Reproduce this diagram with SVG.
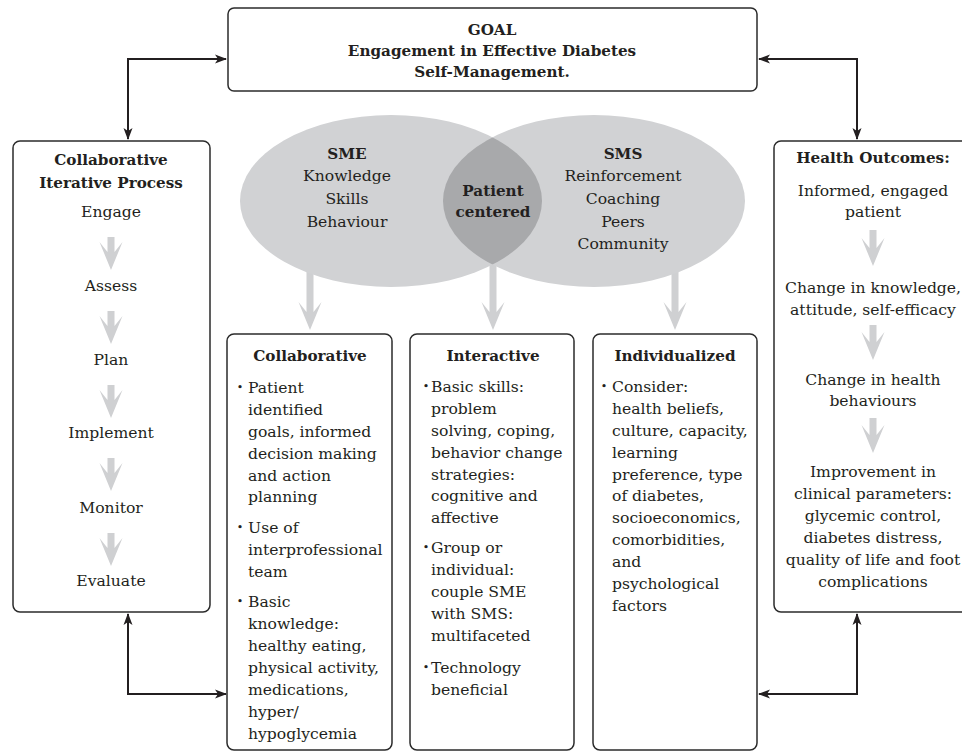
<svg xmlns="http://www.w3.org/2000/svg" width="962" height="752" viewBox="0 0 962 752">
<style>
.box{fill:#fff;stroke:#2b2b2b;stroke-width:1.5}
.t{font-family:"DejaVu Serif","Liberation Serif",serif;font-size:15.6px;fill:#231f20}
.b{font-weight:bold;font-size:15.2px}
.c{text-anchor:middle}
.bu{font-size:11px;text-anchor:middle}
.ga{fill:#cfd0d2}
.conn{stroke:#231f20;stroke-width:2;fill:none}
</style>
<defs>
<marker id="ah" markerUnits="userSpaceOnUse" markerWidth="12" markerHeight="10" viewBox="0 0 12 10" refX="11" refY="5" orient="auto-start-reverse">
<path d="M0,0.5 L12,5 L0,9.5 L3,5 Z" fill="#231f20"/>
</marker>
<clipPath id="clipL"><ellipse cx="391" cy="201" rx="151" ry="86"/></clipPath>
</defs>

<g id="connectors">
<path class="conn" d="M226,59 H128 V139" marker-start="url(#ah)" marker-end="url(#ah)"/>
<path class="conn" d="M759,59 H857 V139" marker-start="url(#ah)" marker-end="url(#ah)"/>
<path class="conn" d="M128,614 V694 H226" marker-start="url(#ah)" marker-end="url(#ah)"/>
<path class="conn" d="M857,614 V694 H759" marker-start="url(#ah)" marker-end="url(#ah)"/>
<path class="ga" d="M306.5,272 H313.5 V312 L321.5,302 L310,330 L298.5,302 L306.5,312 Z"/>
<path class="ga" d="M489.5,262 H496.5 V312 L504.5,302 L493,330 L481.5,302 L489.5,312 Z"/>
<path class="ga" d="M671.5,272 H678.5 V312 L686.5,302 L675,330 L663.5,302 L671.5,312 Z"/>
</g>

<g id="goal">
<rect class="box" x="228" y="8" width="529" height="83" rx="6"/>
<text class="t b c" x="492" y="35">GOAL</text>
<text class="t b c" x="492" y="56">Engagement in Effective Diabetes</text>
<text class="t b c" x="492" y="77">Self-Management.</text>
</g>

<g id="venn">
<ellipse cx="391" cy="201" rx="151" ry="86" fill="#d1d2d4"/>
<ellipse cx="594" cy="201" rx="151" ry="86" fill="#d1d2d4"/>
<ellipse cx="594" cy="201" rx="151" ry="86" fill="#a8a9ab" clip-path="url(#clipL)"/>
</g>
<g id="sme">
<text class="t b c" x="347" y="159">SME</text>
<text class="t c" x="347" y="181">Knowledge</text>
<text class="t c" x="347" y="204">Skills</text>
<text class="t c" x="347" y="227">Behaviour</text>
</g>
<g id="patient-centered">
<text class="t b c" x="493" y="196">Patient</text>
<text class="t b c" x="493" y="217">centered</text>
</g>
<g id="sms">
<text class="t b c" x="623" y="159">SMS</text>
<text class="t c" x="623" y="181">Reinforcement</text>
<text class="t c" x="623" y="204">Coaching</text>
<text class="t c" x="623" y="227">Peers</text>
<text class="t c" x="623" y="249">Community</text>
</g>

<g id="process">
<rect class="box" x="13" y="141" width="197" height="471" rx="7"/>
<text class="t b c" x="111" y="165">Collaborative</text>
<text class="t b c" x="111" y="188">Iterative Process</text>
<text class="t c" x="111" y="217">Engage</text>
<path class="ga" d="M107.5,237 H114.5 V252 L122.5,242 L111,270 L99.5,242 L107.5,252 Z"/>
<text class="t c" x="111" y="291">Assess</text>
<path class="ga" d="M107.5,311 H114.5 V326 L122.5,316 L111,344 L99.5,316 L107.5,326 Z"/>
<text class="t c" x="111" y="365">Plan</text>
<path class="ga" d="M107.5,385 H114.5 V400 L122.5,390 L111,418 L99.5,390 L107.5,400 Z"/>
<text class="t c" x="111" y="438">Implement</text>
<path class="ga" d="M107.5,458 H114.5 V473 L122.5,463 L111,491 L99.5,463 L107.5,473 Z"/>
<text class="t c" x="111" y="513">Monitor</text>
<path class="ga" d="M107.5,533 H114.5 V548 L122.5,538 L111,566 L99.5,538 L107.5,548 Z"/>
<text class="t c" x="111" y="586">Evaluate</text>
</g>

<g id="outcomes">
<rect class="box" x="774" y="141" width="200" height="471" rx="7"/>
<text class="t b c" x="873" y="163">Health Outcomes:</text>
<text class="t c" x="873" y="196">Informed, engaged</text>
<text class="t c" x="873" y="217">patient</text>
<path class="ga" d="M869.5,230 H876.5 V248 L884.5,238 L873,266 L861.5,238 L869.5,248 Z"/>
<text class="t c" x="873" y="293">Change in knowledge,</text>
<text class="t c" x="873" y="315">attitude, self-efficacy</text>
<path class="ga" d="M869.5,325 H876.5 V342 L884.5,332 L873,360 L861.5,332 L869.5,342 Z"/>
<text class="t c" x="873" y="385">Change in health</text>
<text class="t c" x="873" y="406">behaviours</text>
<path class="ga" d="M869.5,418 H876.5 V435 L884.5,425 L873,453 L861.5,425 L869.5,435 Z"/>
<text class="t c" x="873" y="477">Improvement in</text>
<text class="t c" x="873" y="499">clinical parameters:</text>
<text class="t c" x="873" y="521">glycemic control,</text>
<text class="t c" x="873" y="543">diabetes distress,</text>
<text class="t c" x="873" y="565">quality of life and foot</text>
<text class="t c" x="873" y="587">complications</text>
</g>

<g id="collaborative">
<rect class="box" x="227" y="334" width="165" height="416" rx="7"/>
<text class="t b c" x="310" y="361">Collaborative</text>
<text class="t bu" x="240" y="391">•</text>
<text class="t" x="248" y="393">Patient</text>
<text class="t" x="248" y="415">identified</text>
<text class="t" x="248" y="437">goals, informed</text>
<text class="t" x="248" y="459">decision making</text>
<text class="t" x="248" y="481">and action</text>
<text class="t" x="248" y="502">planning</text>
<text class="t bu" x="240" y="531">•</text>
<text class="t" x="248" y="533">Use of</text>
<text class="t" x="248" y="555">interprofessional</text>
<text class="t" x="248" y="577">team</text>
<text class="t bu" x="240" y="605">•</text>
<text class="t" x="248" y="607">Basic</text>
<text class="t" x="248" y="629">knowledge:</text>
<text class="t" x="248" y="651">healthy eating,</text>
<text class="t" x="248" y="673">physical activity,</text>
<text class="t" x="248" y="695">medications,</text>
<text class="t" x="248" y="717">hyper/</text>
<text class="t" x="248" y="739">hypoglycemia</text>
</g>

<g id="interactive">
<rect class="box" x="410" y="334" width="164" height="416" rx="7"/>
<text class="t b c" x="493" y="361">Interactive</text>
<text class="t bu" x="426" y="390">•</text>
<text class="t" x="431" y="392">Basic skills:</text>
<text class="t" x="431" y="414">problem</text>
<text class="t" x="431" y="436">solving, coping,</text>
<text class="t" x="431" y="458">behavior change</text>
<text class="t" x="431" y="480">strategies:</text>
<text class="t" x="431" y="501">cognitive and</text>
<text class="t" x="431" y="523">affective</text>
<text class="t bu" x="426" y="551">•</text>
<text class="t" x="431" y="553">Group or</text>
<text class="t" x="431" y="575">individual:</text>
<text class="t" x="431" y="597">couple SME</text>
<text class="t" x="431" y="619">with SMS:</text>
<text class="t" x="431" y="641">multifaceted</text>
<text class="t bu" x="426" y="671">•</text>
<text class="t" x="431" y="673">Technology</text>
<text class="t" x="431" y="695">beneficial</text>
</g>

<g id="individualized">
<rect class="box" x="593" y="334" width="164" height="416" rx="7"/>
<text class="t b c" x="675" y="361">Individualized</text>
<text class="t bu" x="604" y="390">•</text>
<text class="t" x="612" y="392">Consider:</text>
<text class="t" x="612" y="414">health beliefs,</text>
<text class="t" x="612" y="436">culture, capacity,</text>
<text class="t" x="612" y="458">learning</text>
<text class="t" x="612" y="480">preference, type</text>
<text class="t" x="612" y="501">of diabetes,</text>
<text class="t" x="612" y="523">socioeconomics,</text>
<text class="t" x="612" y="545">comorbidities,</text>
<text class="t" x="612" y="567">and</text>
<text class="t" x="612" y="589">psychological</text>
<text class="t" x="612" y="611">factors</text>
</g>
</svg>
